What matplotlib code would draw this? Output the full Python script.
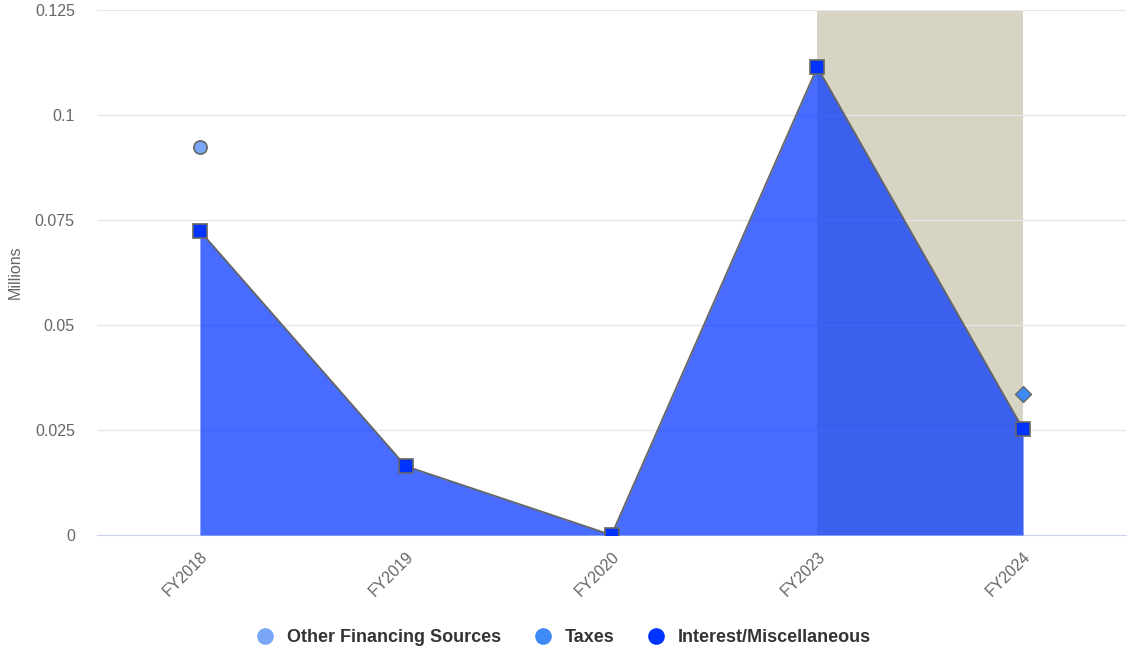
import matplotlib.pyplot as plt
from matplotlib.lines import Line2D

years = ["FY2018", "FY2019", "FY2020", "FY2023", "FY2024"]
interest_misc = [0.0724, 0.0164, 0.0, 0.1114, 0.0252]
other_financing = [0.0924, None, None, None, None]
taxes = [None, None, None, None, 0.0336]
yticks = [0, 0.025, 0.05, 0.075, 0.1, 0.125]
yticklabels = ["0", "0.025", "0.05", "0.075", "0.1", "0.125"]

plt.rcParams['font.family'] = ['Liberation Sans', 'DejaVu Sans']

fig = plt.figure(figsize=(11.27, 6.54), dpi=100)
ax = fig.add_axes([97 / 1127, 1 - 535 / 654, 1029 / 1127, 525 / 654])

x = list(range(len(years)))

# highlighted band for the last period
ax.axvspan(3, 4, color="#d8d4c4", zorder=0.5, lw=0)

ax.fill_between(x, 0, interest_misc, color=(0, 0.2, 1), alpha=0.72, lw=0, zorder=2)
ax.plot(x, interest_misc, color="#666666", lw=1.3, zorder=3)
ax.plot(x, interest_misc, ls="none", marker="s", ms=9.5, mfc="#0033ff",
        mec="#666666", mew=1.2, zorder=4)

ox = [i for i, v in enumerate(other_financing) if v is not None]
oy = [v for v in other_financing if v is not None]
ax.plot(ox, oy, ls="none", marker="o", ms=9.5, mfc="#7aa6f8", mec="#666666",
        mew=1.2, zorder=4)

tx = [i for i, v in enumerate(taxes) if v is not None]
ty = [v for v in taxes if v is not None]
ax.plot(tx, ty, ls="none", marker="D", ms=8, mfc="#3d8af7", mec="#666666",
        mew=1.0, zorder=4)

ax.set_xlim(-0.5, 4.5)
ax.set_ylim(0, 0.125)
ax.set_yticks(yticks)
ax.set_yticklabels(yticklabels, color="#666666", fontsize=11.5)
ax.set_xticks(x)
ax.set_xticklabels(years, rotation=45, ha="right", rotation_mode="anchor",
                   color="#666666", fontsize=11.5)
ax.tick_params(axis="y", length=0, pad=16)
ax.tick_params(axis="x", length=0, pad=10)
ax.grid(axis="y", color="#e6e6e6", lw=1, zorder=0)
ax.set_axisbelow(True)
for s in ["top", "right", "left"]:
    ax.spines[s].set_visible(False)
ax.spines["bottom"].set_color("#ccd6eb")
ax.spines["bottom"].set_zorder(1)
ax.set_ylabel("Millions", color="#666666", fontsize=11.5, labelpad=12)
ax.yaxis.set_label_coords(-74 / 1029, 0.5)

handles = [
    Line2D([], [], ls="none", marker="o", ms=12, mfc="#7aa6f8", mec="none"),
    Line2D([], [], ls="none", marker="o", ms=12, mfc="#3d8af7", mec="none"),
    Line2D([], [], ls="none", marker="o", ms=12, mfc="#0033ff", mec="none"),
]
labels = ["Other Financing Sources", "Taxes", "Interest/Miscellaneous"]
fig.legend(handles, labels, loc="center", bbox_to_anchor=(0.5, 1 - 638 / 654),
           ncol=3, frameon=False, prop={"weight": "bold", "size": 13},
           labelcolor="#333333", handletextpad=0.7, columnspacing=1.8,
           handlelength=1.0)

fig.savefig("out.png", dpi=100)
